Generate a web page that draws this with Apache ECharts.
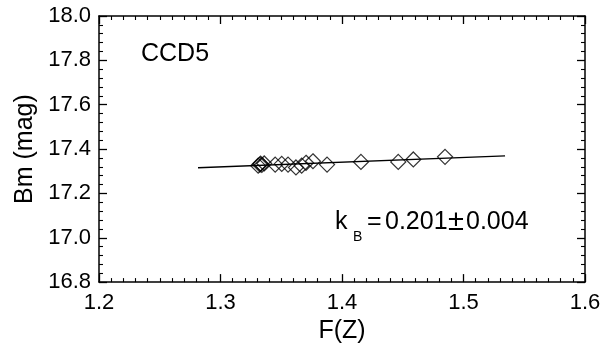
<!DOCTYPE html>
<html>
<head>
<meta charset="utf-8">
<script src="https://cdn.jsdelivr.net/npm/echarts@6/dist/echarts.min.js"></script>
<style>
  html, body { margin: 0; padding: 0; background: #fff; }
  #chart { width: 614px; height: 349px; }
</style>
</head>
<body>
<div id="chart"></div>
<script>
// F(Z) vs Bm, CCD5 observations
const fzValues = [1.331, 1.3325, 1.333, 1.334, 1.336, 1.345, 1.3504, 1.3556, 1.3621, 1.3668, 1.3704, 1.3761, 1.3877, 1.4156, 1.4463, 1.4587, 1.4848];
const bmValues = [17.325, 17.330, 17.334, 17.328, 17.335, 17.330, 17.333, 17.330, 17.317, 17.325, 17.338, 17.345, 17.330, 17.342, 17.342, 17.353, 17.365];
// linear fit line endpoints
const fitX = [1.2815, 1.5342];
const fitY = [17.316, 17.369];

const FONT = '"Liberation Sans", Arial, Helvetica, sans-serif';

const chart = echarts.init(document.getElementById('chart'), null, { renderer: 'canvas' });

const points = fzValues.map((x, i) => [x, bmValues[i]]);
const fitLine = fitX.map((x, i) => [x, fitY[i]]);

function xAxisCfg(pos, showLabels) {
  return {
    type: 'value', position: pos, min: 1.2, max: 1.6, interval: 0.1,
    axisLine: { show: true, onZero: false, lineStyle: { color: '#000', width: 1.5 } },
    axisTick: { show: true, inside: true, length: 8, lineStyle: { color: '#000', width: 1.3 } },
    minorTick: { show: true, splitNumber: 10, length: 4, lineStyle: { color: '#000', width: 1.1 } },
    splitLine: { show: false },
    axisLabel: {
      show: showLabels, color: '#000', fontSize: 22, fontFamily: FONT, margin: 10,
      formatter: v => v.toFixed(1)
    },
    name: showLabels ? 'F(Z)' : '',
    nameLocation: 'middle', nameGap: 34,
    nameTextStyle: { color: '#000', fontSize: 25, fontFamily: FONT }
  };
}

function yAxisCfg(pos, showLabels) {
  return {
    type: 'value', position: pos, min: 16.8, max: 18.0, interval: 0.2,
    axisLine: { show: true, onZero: false, lineStyle: { color: '#000', width: 1.5 } },
    axisTick: { show: true, inside: true, length: 8, lineStyle: { color: '#000', width: 1.3 } },
    minorTick: { show: true, splitNumber: 5, length: 4, lineStyle: { color: '#000', width: 1.1 } },
    splitLine: { show: false },
    axisLabel: {
      show: showLabels, color: '#000', fontSize: 22, fontFamily: FONT, margin: 8,
      formatter: v => v.toFixed(1)
    },
    name: showLabels ? 'Bm (mag)' : '',
    nameLocation: 'middle', nameGap: 58, nameRotate: 90,
    nameTextStyle: { color: '#000', fontSize: 25, fontFamily: FONT }
  };
}

const option = {
  backgroundColor: '#fff',
  animation: false,
  grid: { left: 99, right: 29, top: 16, bottom: 66 },
  xAxis: [xAxisCfg('bottom', true), xAxisCfg('top', false)],
  yAxis: [yAxisCfg('left', true), yAxisCfg('right', false)],
  graphic: [
    {
      type: 'text', left: 141, top: 42,
      style: { text: 'CCD5', font: '25px ' + FONT, fill: '#000' }
    },
    {
      type: 'text', left: 335, top: 210,
      style: { text: 'k', font: '25px ' + FONT, fill: '#000' }
    },
    {
      type: 'text', left: 353, top: 230,
      style: { text: 'B', font: '14px ' + FONT, fill: '#000' }
    },
    {
      type: 'text', left: 367, top: 210,
      style: { text: '=', font: '25px ' + FONT, fill: '#000' }
    },
    {
      type: 'text', left: 385, top: 210,
      style: { text: '0.201', font: '25px ' + FONT, fill: '#000' }
    },
    {
      type: 'text', left: 448, top: 207,
      style: { text: '\u00b1', font: '29px ' + FONT, fill: '#000' }
    },
    {
      type: 'text', left: 466, top: 210,
      style: { text: '0.004', font: '25px ' + FONT, fill: '#000' }
    }
  ],
  series: [
    {
      type: 'line', data: fitLine, showSymbol: false, symbol: 'none',
      lineStyle: { color: '#000', width: 1.4 }, z: 2
    },
    {
      type: 'scatter', data: points, symbol: 'diamond', symbolSize: 15,
      itemStyle: { color: 'transparent', borderColor: '#000', borderWidth: 1.2 }, z: 3
    }
  ]
};

chart.setOption(option);
</script>
</body>
</html>
